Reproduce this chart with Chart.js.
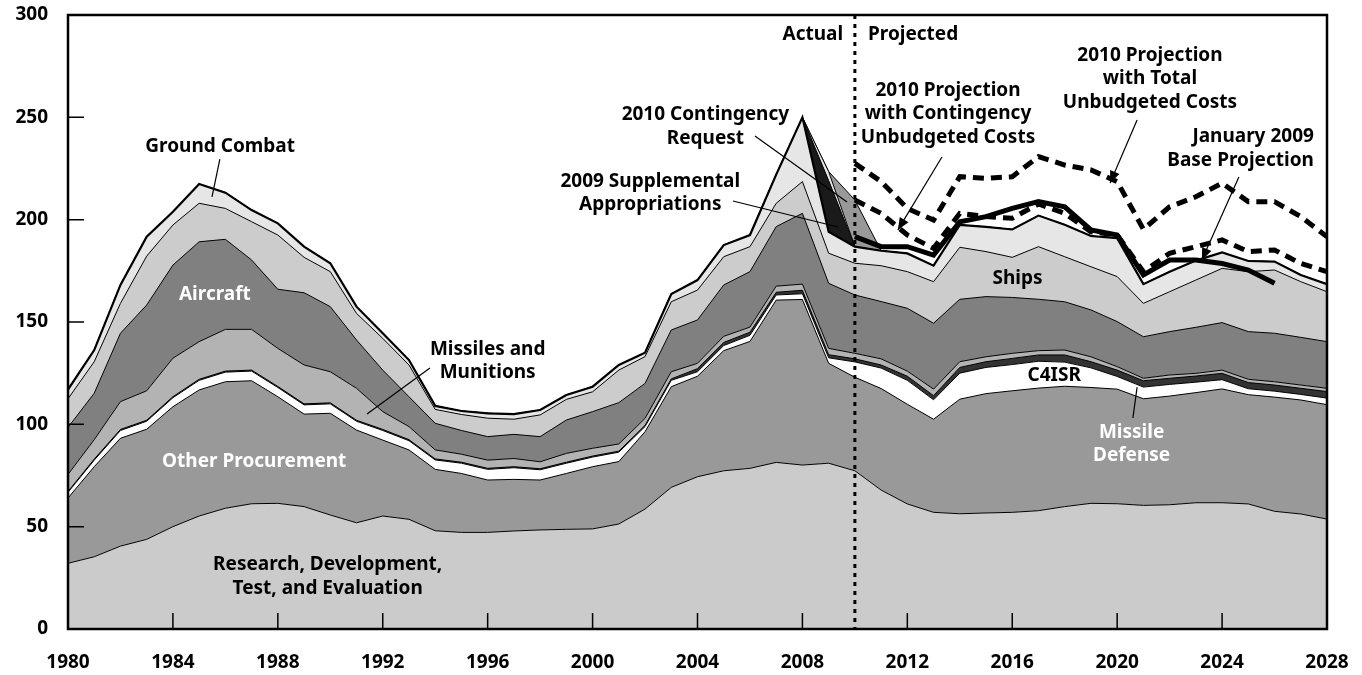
<!DOCTYPE html>
<html>
<head>
<meta charset="utf-8">
<script src="https://cdn.jsdelivr.net/npm/chart.js@4.4.1/dist/chart.umd.min.js"></script>
<style>
  html, body { margin: 0; padding: 0; background: #fff; }
  canvas { display: block; }
</style>
</head>
<body>
<canvas id="chart" width="1362" height="675"></canvas>
<script>
// years on the x axis
const years = [1980, 1981, 1982, 1983, 1984, 1985, 1986, 1987, 1988, 1989,
  1990, 1991, 1992, 1993, 1994, 1995, 1996, 1997, 1998, 1999,
  2000, 2001, 2002, 2003, 2004, 2005, 2006, 2007, 2008, 2009,
  2010, 2011, 2012, 2013, 2014, 2015, 2016, 2017, 2018, 2019,
  2020, 2021, 2022, 2023, 2024, 2025, 2026, 2027, 2028];

// stacked categories (billions of dollars), bottom to top
const rdte = [32.1, 35.3, 40.5, 43.8, 50.0, 55.2, 59.0, 61.2, 61.4, 59.8,
  55.7, 51.9, 55.2, 53.6, 48.0, 47.2, 47.2, 47.9, 48.4, 48.7,
  48.9, 51.3, 58.6, 69.2, 74.4, 77.3, 78.5, 81.4, 80.1, 81.0,
  77.3, 67.9, 61.1, 57.0, 56.3, 56.7, 57.0, 57.8, 59.8, 61.4,
  61.2, 60.4, 60.7, 61.7, 61.7, 61.1, 57.5, 56.2, 53.7];
const otherProcurement = [31.9, 44.0, 52.7, 53.8, 58.6, 61.6, 61.8, 60.1, 52.1, 45.2,
  49.7, 45.3, 37.1, 33.9, 30.0, 28.8, 25.6, 25.2, 24.4, 27.3,
  30.4, 30.5, 37.8, 49.2, 49.1, 58.7, 62.0, 79.3, 80.9, 48.8,
  45.7, 49.6, 48.7, 45.5, 56.0, 58.3, 59.4, 59.9, 58.8, 56.6,
  56.0, 52.1, 53.1, 53.8, 55.6, 53.4, 55.8, 55.7, 55.9];
const missileDefense = [2.8, 3.2, 3.8, 3.9, 4.4, 4.7, 4.7, 4.7, 4.5, 4.5,
  4.6, 4.3, 4.7, 4.5, 4.6, 5.0, 5.2, 5.7, 5.0, 5.0,
  4.7, 4.6, 2.5, 3.1, 2.2, 2.5, 3.0, 2.5, 2.8, 2.7,
  7.5, 10.0, 11.7, 9.5, 12.7, 12.8, 12.8, 13.1, 11.8, 9.6,
  6.2, 5.7, 5.7, 5.1, 4.5, 2.9, 2.9, 2.7, 3.2];
const c4isr = [0.4, 0.5, 0.5, 0.5, 0.5, 0.5, 0.5, 0.5, 0.5, 0.5,
  0.5, 0.5, 0.5, 0.5, 0.5, 0.5, 0.5, 0.5, 0.5, 0.5,
  0.5, 0.5, 0.6, 0.7, 1.5, 1.5, 1.5, 1.3, 1.7, 1.5,
  1.5, 1.5, 2.0, 2.0, 2.8, 2.8, 3.0, 3.1, 3.5, 3.0,
  3.1, 3.1, 3.0, 3.0, 3.1, 3.0, 3.0, 3.0, 3.2];
const missiles = [8.3, 9.5, 13.6, 14.4, 18.8, 18.4, 20.4, 19.9, 18.6, 19.0,
  15.2, 15.6, 8.7, 6.4, 4.4, 3.9, 4.0, 4.0, 3.4, 4.3,
  3.8, 3.5, 3.4, 3.5, 2.6, 3.0, 2.5, 3.0, 3.0, 3.1,
  2.7, 3.0, 2.5, 3.2, 2.8, 2.4, 2.5, 2.1, 2.4, 2.4,
  1.7, 1.2, 1.6, 1.3, 1.6, 1.6, 1.6, 1.6, 1.6];
const aircraft = [23.0, 22.7, 33.4, 41.9, 45.5, 48.8, 44.0, 33.9, 28.9, 35.3,
  31.8, 23.6, 20.3, 14.6, 13.0, 11.6, 11.5, 11.8, 12.3, 16.3,
  17.9, 20.2, 17.1, 20.4, 21.2, 25.1, 27.1, 29.1, 34.6, 31.8,
  28.5, 28.0, 30.7, 32.2, 30.5, 29.4, 27.3, 25.1, 23.6, 22.9,
  22.0, 20.3, 21.2, 22.5, 23.2, 23.3, 23.7, 23.3, 22.8];
const ships = [14.0, 15.4, 14.6, 23.9, 19.6, 18.8, 15.1, 18.7, 26.5, 17.3,
  17.1, 13.0, 15.5, 15.5, 6.8, 7.8, 9.0, 7.4, 10.6, 10.1,
  9.7, 15.9, 13.1, 13.8, 14.6, 13.8, 12.2, 11.4, 15.5, 14.7,
  15.5, 17.5, 17.9, 20.3, 25.4, 22.0, 19.6, 25.7, 22.0, 21.1,
  22.0, 16.3, 19.5, 23.1, 26.5, 29.3, 30.9, 27.2, 24.4];
const groundCombat = [4.5, 5.7, 9.0, 9.5, 6.5, 9.4, 7.7, 5.7, 5.7, 5.2,
  4.1, 3.3, 2.5, 2.4, 1.7, 1.7, 2.4, 2.5, 2.4, 2.1,
  2.5, 2.5, 1.9, 3.8, 4.9, 5.7, 5.7, 14.0, 31.4, 10.5,
  8.1, 7.3, 8.9, 7.8, 10.9, 12.1, 13.6, 15.2, 15.6, 15.0,
  18.8, 9.4, 9.7, 9.5, 7.8, 5.2, 4.1, 3.3, 3.7];

// war funding wedges, by year (2008..2011), zero elsewhere
const wedgeYears = [2008, 2009, 2010, 2011];
const supplemental2009 = [0, 25.0, 0, 0];
const supplementalOther = [0, 4.4, 0, 0];
const contingency2010 = [0, 0, 22.8, 0];

// projection lines, starting in 2010
const projYears = [2010, 2011, 2012, 2013, 2014, 2015, 2016, 2017, 2018, 2019,
  2020, 2021, 2022, 2023, 2024, 2025, 2026, 2027, 2028];
const jan2009Base = [191.7, 186.8, 186.8, 182.7, 199.0, 201.5, 205.5, 208.8, 206.3, 195.0,
  192.5, 173.0, 180.3, 180.3, 178.6, 175.4, 168.9];
const contingencyUnbudgeted = [209.6, 203.1, 192.5, 186.0, 203.1, 201.5, 200.7, 207.7, 203.1, 194.1,
  192.5, 174.6, 183.6, 186.8, 190.1, 184.4, 185.2, 178.6, 174.6];
const totalUnbudgeted = [227.5, 218.6, 205.5, 199.8, 221.0, 220.2, 221.0, 230.8, 226.7, 224.3,
  218.6, 195.3, 206.3, 211.2, 217.8, 208.8, 208.8, 201.5, 191.7];

const FONT = '"Noto Sans", "DejaVu Sans", sans-serif';

// labels placed in data units: [lines, year, value, colour, align]
const labels = [
  [['Ground Combat'], 1985.8, 235.5, '#000', 'center'],
  [['Aircraft'], 1985.6, 163.2, '#fff', 'center'],
  [['Missiles and', 'Munitions'], 1996.0, 130.9, '#000', 'center'],
  [['Other Procurement'], 1987.1, 81.6, '#fff', 'center'],
  [['Research, Development,', 'Test, and Evaluation'], 1989.9, 25.6, '#000', 'center'],
  [['2009 Supplemental', 'Appropriations'], 2002.2, 213.0, '#000', 'center'],
  [['2010 Contingency', 'Request'], 2004.3, 245.5, '#000', 'center'],
  [['Actual'], 2009.55, 290.2, '#000', 'right'],
  [['Projected'], 2010.5, 290.2, '#000', 'left'],
  [['2010 Projection', 'with Contingency', 'Unbudgeted Costs'], 2013.55, 251.8, '#000', 'center'],
  [['2010 Projection', 'with Total', 'Unbudgeted Costs'], 2021.25, 268.9, '#000', 'center'],
  [['January 2009', 'Base Projection'], 2027.5, 234.8, '#000', 'right'],
  [['Ships'], 2016.2, 171.0, '#000', 'center'],
  [['C4ISR'], 2017.6, 123.6, '#000', 'center'],
  [['Missile', 'Defense'], 2020.55, 90.4, '#fff', 'center']
];

// leader lines: [fromYear, fromValue, toYear, toValue, arrow]
const leaders = [
  [1985.79, 229.6, 1985.49, 211.1, false],
  [1993.80, 127.5, 1991.40, 105.0, false],
  [2005.35, 209.1, 2009.36, 196.4, false],
  [2006.19, 240.9, 2009.70, 208.6, false],
  [2020.60, 103.1, 2020.76, 118.2, false],
  [2013.32, 230.6, 2011.64, 195.0, true],
  [2020.76, 248.7, 2019.73, 217.9, true],
  [2024.64, 220.8, 2023.23, 180.3, true]
];

const layers = [
  ['Research, Development, Test, and Evaluation', rdte, '#cbcbcb'],
  ['Other Procurement', otherProcurement, '#999999'],
  ['Missile Defense', missileDefense, '#ffffff'],
  ['C4ISR', c4isr, '#333333'],
  ['Missiles and Munitions', missiles, '#b3b3b3'],
  ['Aircraft', aircraft, '#808080'],
  ['Ships', ships, '#cccccc'],
  ['Ground Combat', groundCombat, '#e6e6e6']
];
const wedges = [
  ['2009 Supplemental Appropriations', supplemental2009, '#1a1a1a'],
  ['2009 Supplemental (other)', supplementalOther, '#e6e6e6'],
  ['2010 Contingency Request', contingency2010, '#999999']
];

const datasets = [];
layers.forEach(([label, values, color], i) => {
  datasets.push({
    label,
    data: years.map((yr, j) => ({x: yr, y: values[j]})),
    backgroundColor: color,
    borderColor: '#000',
    borderWidth: label === 'Ground Combat' ? 2.2 : 1,
    fill: i === 0 ? 'origin' : '-1',
    pointRadius: 0,
    tension: 0,
    order: 1
  });
});
wedges.forEach(([label, values, color]) => {
  datasets.push({
    label,
    data: years.map(yr => {
      const k = wedgeYears.indexOf(yr);
      return {x: yr, y: k < 0 ? 0 : values[k]};
    }),
    backgroundColor: color,
    borderColor: '#000',
    borderWidth: 1,
    fill: '-1',
    pointRadius: 0,
    tension: 0,
    order: 1
  });
});

function projLine(label, values, dash) {
  return {
    label,
    data: values.map((v, i) => ({x: projYears[i], y: v})),
    yAxisID: 'yLines',
    borderColor: '#000',
    borderWidth: 5,
    borderDash: dash,
    fill: false,
    pointRadius: 0,
    tension: 0,
    order: 0
  };
}
datasets.push(projLine('January 2009 Base Projection', jan2009Base, []));
datasets.push(projLine('2010 Projection with Contingency Unbudgeted Costs', contingencyUnbudgeted, [11, 7]));
datasets.push(projLine('2010 Projection with Total Unbudgeted Costs', totalUnbudgeted, [11, 7]));

const overlay = {
  id: 'overlay',
  afterDatasetsDraw(chart) {
    const {ctx, chartArea: a} = chart;
    const x = chart.scales.x, y = chart.scales.y;
    const px = v => x.getPixelForValue(v), py = v => y.getPixelForValue(v);
    ctx.save();

    // actual / projected divider
    ctx.strokeStyle = '#000';
    ctx.lineWidth = 3;
    ctx.setLineDash([4, 5]);
    ctx.beginPath();
    ctx.moveTo(px(2010), a.top);
    ctx.lineTo(px(2010), a.bottom);
    ctx.stroke();
    ctx.setLineDash([]);

    // leader lines
    ctx.lineWidth = 1.2;
    ctx.fillStyle = '#000';
    leaders.forEach(([x0, y0, x1, y1, arrow]) => {
      const ax = px(x0), ay = py(y0), bx = px(x1), by = py(y1);
      ctx.beginPath();
      ctx.moveTo(ax, ay);
      ctx.lineTo(bx, by);
      ctx.stroke();
      if (arrow) {
        const ang = Math.atan2(by - ay, bx - ax);
        ctx.beginPath();
        ctx.moveTo(bx, by);
        ctx.lineTo(bx - 13 * Math.cos(ang - 0.4), by - 13 * Math.sin(ang - 0.4));
        ctx.lineTo(bx - 13 * Math.cos(ang + 0.4), by - 13 * Math.sin(ang + 0.4));
        ctx.closePath();
        ctx.fill();
      }
    });

    // frame
    ctx.lineWidth = 2.5;
    ctx.strokeRect(a.left, a.top, a.right - a.left, a.bottom - a.top);

    // inside tick marks
    ctx.lineWidth = 1.5;
    ctx.beginPath();
    for (let v = 50; v < 300; v += 50) {
      ctx.moveTo(a.left, py(v));
      ctx.lineTo(a.left + 16, py(v));
    }
    for (let yr = 1984; yr < 2028; yr += 4) {
      ctx.moveTo(px(yr), a.bottom);
      ctx.lineTo(px(yr), a.bottom - 16);
    }
    ctx.stroke();

    // text labels
    ctx.font = 'bold 19px ' + FONT;
    ctx.textBaseline = 'middle';
    labels.forEach(([lines, lx, ly, color, align]) => {
      ctx.fillStyle = color;
      ctx.textAlign = align;
      const cy = py(ly), h = 23.5;
      lines.forEach((t, i) => {
        ctx.fillText(t, px(lx), cy + (i - (lines.length - 1) / 2) * h);
      });
    });
    ctx.restore();
  }
};

const tickFont = {family: FONT, size: 19, weight: 'bold'};

function noPadding(s) {
  s.paddingTop = 0;
  s.paddingBottom = 0;
  s.paddingLeft = 0;
  s.paddingRight = 0;
}

new Chart(document.getElementById('chart'), {
  type: 'line',
  data: {datasets},
  options: {
    responsive: false,
    animation: false,
    devicePixelRatio: 1,
    layout: {padding: {top: 15, right: 35, left: 0, bottom: 0}},
    plugins: {legend: {display: false}, tooltip: {enabled: false}},
    scales: {
      x: {
        type: 'linear', min: 1980, max: 2028,
        grid: {display: false}, border: {display: false},
        ticks: {stepSize: 4, padding: 14, color: '#000', font: tickFont, maxRotation: 0,
          callback: v => String(v)},
        afterFit: s => { s.height = 46; noPadding(s); }
      },
      y: {
        stacked: true, min: 0, max: 300,
        grid: {display: false}, border: {display: false},
        ticks: {stepSize: 50, padding: 12, color: '#000', font: tickFont},
        afterFit: s => { s.width = 68; noPadding(s); }
      },
      yLines: {display: false, stacked: false, min: 0, max: 300}
    }
  },
  plugins: [overlay]
});
</script>
</body>
</html>
